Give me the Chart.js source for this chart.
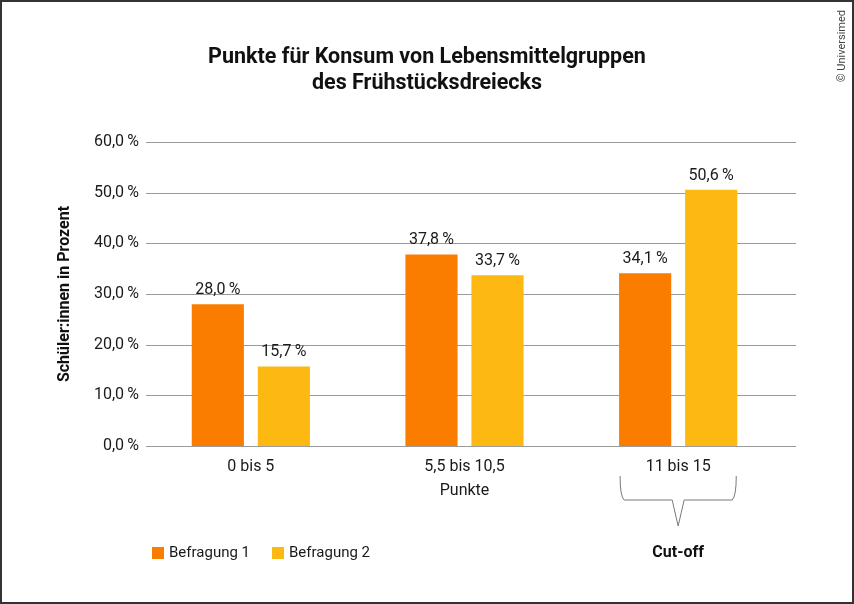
<!DOCTYPE html>
<html>
<head>
<meta charset="utf-8">
<script src="https://cdn.jsdelivr.net/npm/chart.js@4"></script>
<style>
  html, body { margin: 0; padding: 0; background: #fff; }
  #wrap { width: 854px; height: 604px; position: relative; }
</style>
</head>
<body>
<div id="wrap"><canvas id="chart1" width="854" height="604"></canvas></div>
<script>
// data
const categories = ['0 bis 5', '5,5 bis 10,5', '11 bis 15'];
const befragung1 = [28.0, 37.8, 34.1];
const befragung2 = [15.7, 33.7, 50.6];
const seriesNames = ['Befragung 1', 'Befragung 2'];
const seriesColors = ['#FA7D00', '#FDB811'];
const titleLines = ['Punkte für Konsum von Lebensmittelgruppen', 'des Frühstücksdreiecks'];
const yMin = 0, yMax = 60, yStep = 10;

const FONT = 'Roboto, "Open Sans", sans-serif';

function fmt(v) {
    return v.toFixed(1).replace('.', ',') + '\u2009%';
}

// extra drawing: frame, grid, title, value labels, brace, legend, copyright
const extras = {
    id: 'extras',
    beforeDatasetsDraw(chart) {
        const ctx = chart.ctx;
        const y = chart.scales.y;
        const a = chart.chartArea;
        ctx.save();
        ctx.strokeStyle = '#9a9a9a';
        ctx.lineWidth = 1;
        y.ticks.forEach((t) => {
            const py = Math.round(y.getPixelForValue(t.value)) + 0.5;
            ctx.beginPath();
            ctx.moveTo(a.left + 2, py);
            ctx.lineTo(a.right + 11, py);
            ctx.stroke();
        });
        ctx.restore();
    },
    afterDraw(chart) {
        const ctx = chart.ctx;
        ctx.save();

        // title, centred on the whole picture
        ctx.font = 'bold 21.5px ' + FONT;
        ctx.fillStyle = '#111';
        ctx.textAlign = 'center';
        ctx.textBaseline = 'middle';
        titleLines.forEach((t, i) => ctx.fillText(t, chart.width / 2, 58 + i * 26));

        // value labels
        ctx.font = '16px ' + FONT;
        ctx.fillStyle = '#1a1a1a';
        ctx.textBaseline = 'alphabetic';
        chart.data.datasets.forEach((ds, i) => {
            chart.getDatasetMeta(i).data.forEach((bar, j) => {
                ctx.fillText(fmt(ds.data[j]), bar.x, bar.y - 10);
            });
        });

        // brace under last group
        const b1 = chart.getDatasetMeta(0).data[2];
        const b2 = chart.getDatasetMeta(1).data[2];
        const l = b1.x - b1.width / 2 + 1;
        const r = b2.x + b2.width / 2 - 1;
        const m = (l + r) / 2;
        ctx.strokeStyle = '#7a7a7a';
        ctx.lineWidth = 1;
        ctx.beginPath();
        ctx.moveTo(l, 476);
        ctx.quadraticCurveTo(l, 496, l + 4, 500);
        ctx.lineTo(m - 6, 500);
        ctx.lineTo(m, 526);
        ctx.lineTo(m + 6, 500);
        ctx.lineTo(r - 4, 500);
        ctx.quadraticCurveTo(r, 496, r, 476);
        ctx.stroke();

        ctx.font = 'bold 16px ' + FONT;
        ctx.fillStyle = '#111';
        ctx.textBaseline = 'middle';
        ctx.fillText('Cut-off', m, 553);

        // legend
        ctx.font = '15px ' + FONT;
        ctx.textAlign = 'left';
        let lx = 152;
        seriesNames.forEach((name, i) => {
            ctx.fillStyle = seriesColors[i];
            ctx.fillRect(lx, 547, 12, 12);
            ctx.fillStyle = '#1a1a1a';
            ctx.fillText(name, lx + 17, 553);
            lx += 120;
        });

        // copyright
        ctx.save();
        ctx.translate(842, 46);
        ctx.rotate(-Math.PI / 2);
        ctx.font = '11px ' + FONT;
        ctx.fillStyle = '#444';
        ctx.textAlign = 'center';
        ctx.fillText('\u00A9 Universimed', 0, 0);
        ctx.restore();

        // frame
        ctx.strokeStyle = '#333';
        ctx.lineWidth = 2;
        ctx.strokeRect(1, 1, chart.width - 2, chart.height - 2);

        ctx.restore();
    }
};

new Chart(document.getElementById('chart1'), {
    type: 'bar',
    data: {
        labels: categories,
        datasets: [{
            label: seriesNames[0],
            data: befragung1,
            backgroundColor: seriesColors[0],
        }, {
            label: seriesNames[1],
            data: befragung2,
            backgroundColor: seriesColors[1],
        }]
    },
    options: {
        responsive: false,
        animation: false,
        devicePixelRatio: 1,
        categoryPercentage: 0.618,
        barPercentage: 0.79,
        layout: { padding: { left: 0, right: 69, top: 142, bottom: 98 } },
        plugins: {
            legend: { display: false },
            tooltip: { enabled: false },
            title: { display: false }
        },
        scales: {
            x: {
                grid: { display: false, drawTicks: false },
                border: { display: false },
                ticks: { font: { family: FONT, size: 16 }, color: '#1a1a1a', padding: 11 },
                title: {
                    display: true,
                    text: 'Punkte',
                    font: { family: FONT, size: 16 },
                    color: '#1a1a1a',
                    padding: { top: 0, bottom: 5 }
                },
                afterFit(scale) { scale.height = 60; }
            },
            y: {
                min: yMin,
                max: yMax,
                grid: { display: false, drawTicks: false },
                border: { display: false },
                ticks: {
                    stepSize: yStep,
                    font: { family: FONT, size: 16 },
                    color: '#1a1a1a',
                    padding: 5,
                    callback: (v) => fmt(v)
                },
                title: {
                    display: true,
                    text: 'Schüler:innen in Prozent',
                    font: { family: FONT, size: 16, weight: 'bold' },
                    color: '#111',
                    padding: { top: 55, bottom: 0 }
                },
                afterFit(scale) { scale.width = 144; }
            }
        }
    },
    plugins: [extras]
});
</script>
</body>
</html>
